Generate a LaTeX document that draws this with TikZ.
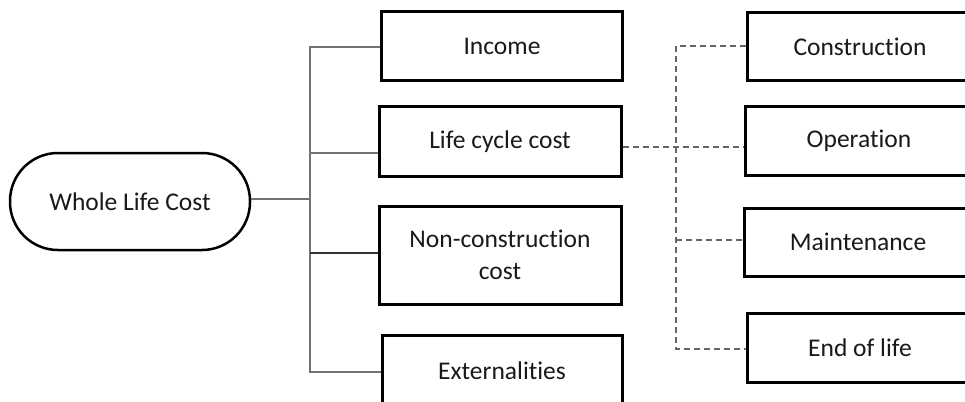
\documentclass[tikz,border=0pt]{standalone}
\usepackage{fontspec}
\setmainfont[Ligatures=NoCommon]{Carlito}
\begin{document}
\begin{tikzpicture}[x=1pt,y=-1pt,
  every node/.style={font=\fontsize{25.5}{30}\selectfont, text=black!90},
  box/.style={draw=black, line width=3pt, rectangle, inner sep=0pt, align=center},
  pill/.style={draw=black, line width=2.5pt, rectangle, rounded corners=48pt, inner sep=0pt},
  link/.style={draw=black!55, line width=2pt},
  dlink/.style={draw=black!60, line width=1.8pt, dash pattern=on 6pt off 4pt}]
\useasboundingbox (0,0) rectangle (965,401);
\clip (0,0) rectangle (965,401);
\fill[white] (0,0) rectangle (965,401);

\node[pill, minimum width=240pt, minimum height=97pt] (wlc) at (130,201.5) {Whole Life Cost};

\node[box, minimum width=241pt, minimum height=69pt] (inc) at (502,46.5) {Income};
\node[box, minimum width=242pt, minimum height=69pt] (lcc) at (500,141.5) {\raisebox{-3pt}{Life cycle cost}};
\node[box, minimum width=242pt, minimum height=98pt] (ncc) at (500,255) {Non-construction\\[2pt]cost};
\node[box, minimum width=240pt, minimum height=72pt] (ext) at (502,371) {Externalities};

\node[box, minimum width=226pt, minimum height=68pt] (con) at (860,47) {Construction};
\node[box, minimum width=228pt, minimum height=68pt] (ope) at (859,141) {\raisebox{-2pt}{Operation}};
\node[box, minimum width=228pt, minimum height=68pt] (mai) at (858,242) {Maintenance};
\node[box, minimum width=226pt, minimum height=69pt] (eol) at (860,347.5) {End of life};

\coordinate (ttop) at (310,47);
\coordinate (tlcc) at (310,153);
\coordinate (tncc) at (310,253);
\coordinate (tbot) at (310,372);
\coordinate (twlc) at (310,199);

\draw[link] (wlc.east |- twlc) -- (twlc);
\draw[link] (inc.west |- ttop) -- (ttop) -- (tbot) -- (ext.west |- tbot);
\draw[link] (tlcc) -- (lcc.west |- tlcc);
\draw[draw=black!80, line width=1.5pt] (tncc) -- (ncc.west |- tncc);

\coordinate (dtop) at (676,46);
\coordinate (dmid) at (676,147);
\coordinate (dmai) at (676,240);
\coordinate (dbot) at (676,349);
\draw[dlink] (lcc.east |- dmid) -- (ope.west |- dmid);
\draw[dlink] (con.west |- dtop) -- (dtop) -- (dbot) -- (eol.west |- dbot);
\draw[dlink, line width=1.3pt] (dmai) -- (mai.west |- dmai);
\end{tikzpicture}
\end{document}
